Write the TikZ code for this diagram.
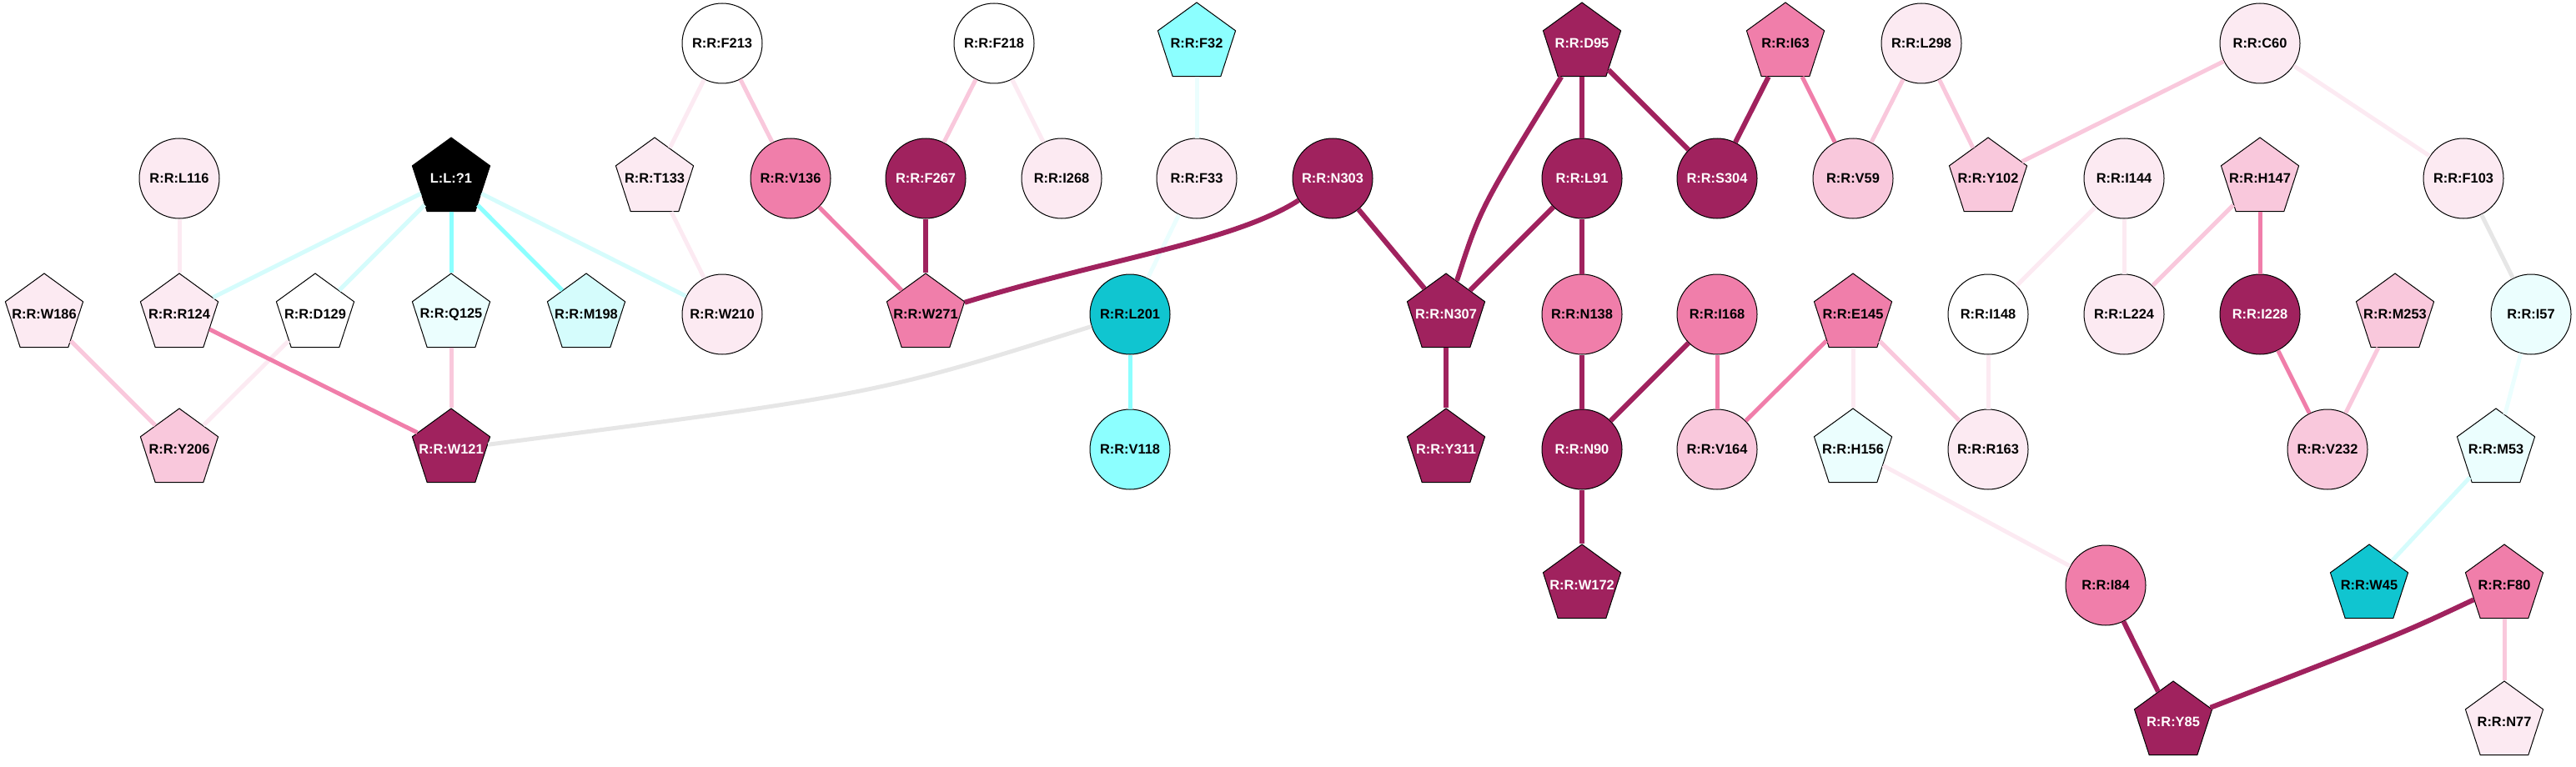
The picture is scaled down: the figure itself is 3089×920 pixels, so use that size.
\documentclass[tikz,border=0pt]{standalone}
\usepackage{fontspec}
\setmainfont{Liberation Sans}
\usetikzlibrary{shapes.geometric}

\definecolor{dk}{HTML}{A0225E}
\definecolor{md}{HTML}{F07EAA}
\definecolor{lt}{HTML}{F9C8DC}
\definecolor{vl}{HTML}{FCEAF2}
\definecolor{cydk}{HTML}{10C5D0}
\definecolor{cy}{HTML}{8CFFFF}
\definecolor{cylt}{HTML}{D5FCFC}
\definecolor{cyvl}{HTML}{EBFEFE}
\definecolor{gr}{HTML}{E6E6E6}

\begin{document}
\begin{tikzpicture}[x=0.5pt, y=-0.5pt,
    res/.style={circle, draw=black, line width=0.5pt, fill=white, minimum size=48pt, inner sep=0pt, font=\fontsize{8.2}{10}\selectfont\bfseries},
    pent/.style={regular polygon, regular polygon sides=5, draw=black, line width=0.5pt, fill=white, minimum size=49pt, inner sep=0pt, font=\fontsize{8.2}{10}\selectfont\bfseries,
        execute at begin node={\hbox to 0pt\bgroup\hss}, execute at end node={\hss\egroup}},
    hot/.style={fill=dk, text=white},
    link/.style={line width=2.5pt},
    strong/.style={line width=3pt, dk}]
    \useasboundingbox (0,0) rectangle (3089,920);

    % Row 1
    \node[res] (F213) at (866,52) {R:R:F213};
    \node[res] (F218) at (1192,52) {R:R:F218};
    \node[pent, fill=cy] (F32) at (1435,52) {R:R:F32};
    \node[pent, hot] (D95) at (1897,52) {R:R:D95};
    \node[pent, fill=md] (I63) at (2141,52) {R:R:I63};
    \node[res, fill=vl] (L298) at (2304,52) {R:R:L298};
    \node[res, fill=vl] (C60) at (2710,52) {R:R:C60};

    % Row 2
    \node[res, fill=vl] (L116) at (215,214) {R:R:L116};
    \node[pent, fill=black, text=white] (Q1) at (541,214) {L:L:?1};
    \node[pent, fill=vl] (T133) at (785,214) {R:R:T133};
    \node[res, fill=md] (V136) at (948,214) {R:R:V136};
    \node[res, hot] (F267) at (1110,214) {R:R:F267};
    \node[res, fill=vl] (I268) at (1273,214) {R:R:I268};
    \node[res, fill=vl] (F33) at (1435,214) {R:R:F33};
    \node[res, hot] (N303) at (1598,214) {R:R:N303};
    \node[res, hot] (L91) at (1897,214) {R:R:L91};
    \node[res, hot] (S304) at (2059,214) {R:R:S304};
    \node[res, fill=lt] (V59) at (2222,214) {R:R:V59};
    \node[pent, fill=lt] (Y102) at (2384,214) {R:R:Y102};
    \node[res, fill=vl] (I144) at (2547,214) {R:R:I144};
    \node[pent, fill=lt] (H147) at (2710,214) {R:R:H147};
    \node[res, fill=vl] (F103) at (2954,214) {R:R:F103};

    % Row 3
    \node[pent, fill=vl] (W186) at (53,377) {R:R:W186};
    \node[pent, fill=vl] (R124) at (215,377) {R:R:R124};
    \node[pent] (D129) at (378,377) {R:R:D129};
    \node[pent, fill=cyvl] (Q125) at (541,377) {R:R:Q125};
    \node[pent, fill=cylt] (M198) at (703,377) {R:R:M198};
    \node[res, fill=vl] (W210) at (866,377) {R:R:W210};
    \node[pent, fill=md] (W271) at (1110,377) {R:R:W271};
    \node[res, fill=cydk] (L201) at (1355,377) {R:R:L201};
    \node[pent, hot] (N307) at (1734,377) {R:R:N307};
    \node[res, fill=md] (N138) at (1897,377) {R:R:N138};
    \node[res, fill=md] (I168) at (2059,377) {R:R:I168};
    \node[pent, fill=md] (E145) at (2222,377) {R:R:E145};
    \node[res] (I148) at (2384,377) {R:R:I148};
    \node[res, fill=vl] (L224) at (2547,377) {R:R:L224};
    \node[res, hot] (I228) at (2710,377) {R:R:I228};
    \node[pent, fill=lt] (M253) at (2872,377) {R:R:M253};
    \node[res, fill=cyvl] (I57) at (3035,377) {R:R:I57};

    % Row 4
    \node[pent, fill=lt] (Y206) at (215,539) {R:R:Y206};
    \node[pent, hot] (W121) at (541,539) {R:R:W121};
    \node[res, fill=cy] (V118) at (1355,539) {R:R:V118};
    \node[pent, hot] (Y311) at (1734,539) {R:R:Y311};
    \node[res, hot] (N90) at (1897,539) {R:R:N90};
    \node[res, fill=lt] (V164) at (2059,539) {R:R:V164};
    \node[pent, fill=cyvl] (H156) at (2222,539) {R:R:H156};
    \node[res, fill=vl] (R163) at (2384,539) {R:R:R163};
    \node[res, fill=lt] (V232) at (2791,539) {R:R:V232};
    \node[pent, fill=cyvl] (M53) at (2993,539) {R:R:M53};

    % Row 5 and 6
    \node[pent, hot] (W172) at (1897,702) {R:R:W172};
    \node[res, fill=md] (I84) at (2525,702) {R:R:I84};
    \node[pent, fill=cydk] (W45) at (2841,702) {R:R:W45};
    \node[pent, fill=md] (F80) at (3003,702) {R:R:F80};
    \node[pent, hot] (Y85) at (2606,866) {R:R:Y85};
    \node[pent, fill=vl] (N77) at (3003,866) {R:R:N77};

    % Ligand contacts
    \draw[link, cylt] (Q1) -- (R124);
    \draw[link, cylt] (Q1) -- (D129);
    \draw[link, cy] (Q1) -- (Q125);
    \draw[link, cy] (Q1) -- (M198);
    \draw[link, cylt] (Q1) -- (W210);

    % Left part
    \draw[link, vl] (L116) -- (R124);
    \draw[link, lt] (W186) -- (Y206);
    \draw[link, vl] (D129) -- (Y206);
    \draw[link, md] (R124) -- (W121);
    \draw[link, lt] (Q125) -- (W121);
    \draw[link, gr] (W121) .. controls (1050,473) .. (L201);
    \draw[link, vl] (F213) -- (T133);
    \draw[link, lt] (F213) -- (V136);
    \draw[link, vl] (T133) -- (W210);
    \draw[link, md] (V136) -- (W271);
    \draw[link, lt] (F218) -- (F267);
    \draw[link, vl] (F218) -- (I268);
    \draw[strong] (F267) -- (W271);
    \draw[link, cyvl] (F32) -- (F33);
    \draw[link, cyvl] (F33) -- (L201);
    \draw[link, cy] (L201) -- (V118);
    \draw[strong] (N303) .. controls (1480,290) and (1330,310) .. (W271);

    % Middle part
    \draw[strong] (N303) -- (N307);
    \draw[strong] (D95) .. controls (1775,250) .. (N307);
    \draw[strong] (D95) -- (L91);
    \draw[strong] (D95) -- (S304);
    \draw[strong] (L91) -- (N307);
    \draw[strong] (L91) -- (N138);
    \draw[strong] (N307) -- (Y311);
    \draw[strong] (N138) -- (N90);
    \draw[strong] (I168) -- (N90);
    \draw[strong] (N90) -- (W172);
    \draw[link, md] (I168) -- (V164);
    \draw[strong] (I63) -- (S304);
    \draw[link, md] (I63) -- (V59);
    \draw[link, lt] (L298) -- (V59);
    \draw[link, lt] (L298) -- (Y102);
    \draw[link, lt] (C60) -- (Y102);
    \draw[link, md] (E145) -- (V164);
    \draw[link, vl] (E145) -- (H156);
    \draw[link, lt] (E145) -- (R163);
    \draw[link, vl] (I148) -- (R163);
    \draw[link, vl] (H156) -- (I84);

    % Right part
    \draw[link, vl] (C60) -- (F103);
    \draw[link, vl] (I144) -- (I148);
    \draw[link, vl] (I144) -- (L224);
    \draw[link, lt] (H147) -- (L224);
    \draw[link, md] (H147) -- (I228);
    \draw[link, md] (I228) -- (V232);
    \draw[link, lt] (M253) -- (V232);
    \draw[link, gr] (F103) -- (I57);
    \draw[link, cyvl] (I57) -- (M53);
    \draw[link, cylt] (M53) -- (W45);
    \draw[strong] (I84) -- (Y85);
    \draw[strong] (F80) .. controls (2880,760) .. (Y85);
    \draw[link, lt] (F80) -- (N77);
\end{tikzpicture}
\end{document}
